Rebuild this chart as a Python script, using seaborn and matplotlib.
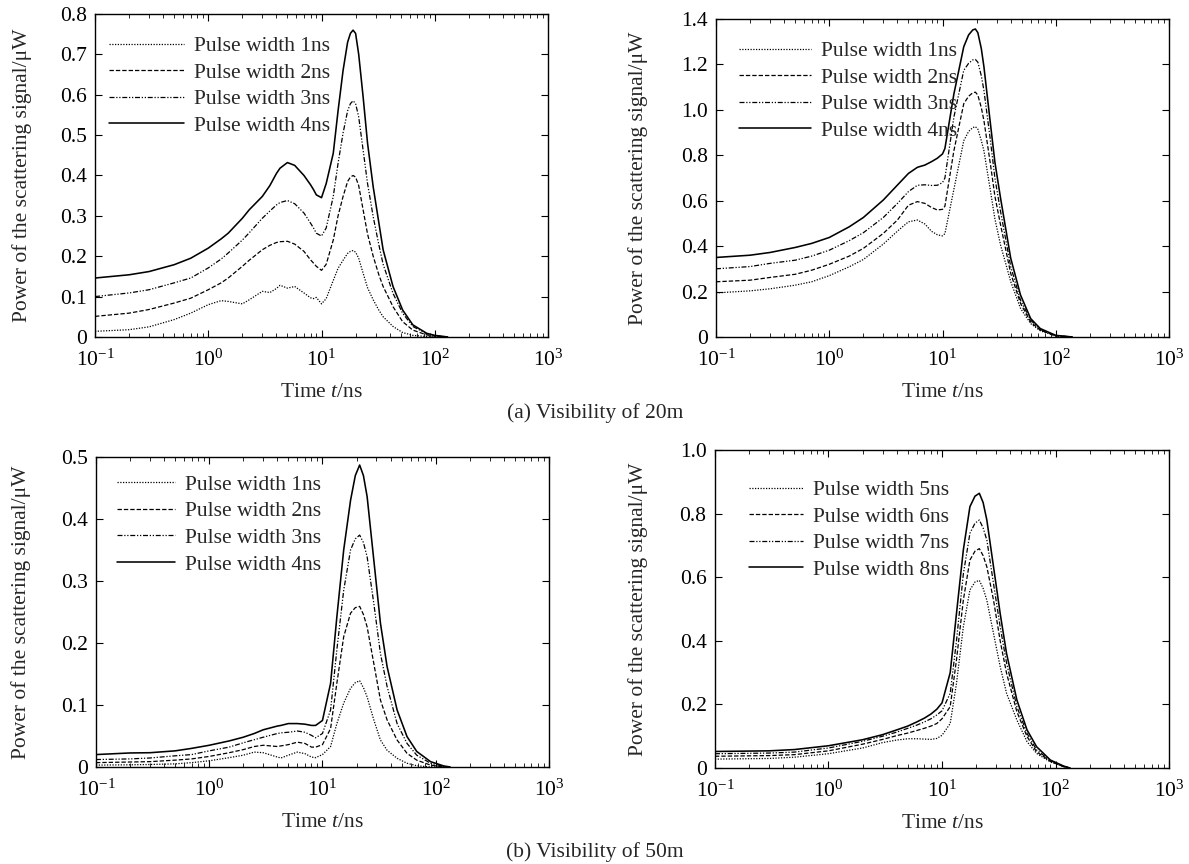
import numpy as np
import pandas as pd
import matplotlib
matplotlib.use("Agg")
import matplotlib.pyplot as plt
import matplotlib.ticker as mticker
import seaborn as sns

# ---------------- data ----------------
# (a) visibility 20 m, left panel, pulse widths 1-4 ns
tA = [0.1, 0.2, 0.3, 0.5, 0.7, 1, 1.3, 1.5, 2, 2.3, 3, 3.5, 4, 4.3, 5, 5.8, 7, 8, 8.5, 9,
      10, 11, 12.7, 14, 15.5, 17, 18, 19, 20, 21.3, 23.3, 25.5, 28.6, 32, 35, 42.8, 52, 64, 85, 100, 130]
a_1ns = [0.014, 0.018, 0.025, 0.043, 0.059, 0.080, 0.090, 0.088, 0.082, 0.092, 0.113, 0.110, 0.120, 0.128,
         0.121, 0.125, 0.109, 0.097, 0.095, 0.098, 0.082, 0.095, 0.140, 0.170, 0.190, 0.207, 0.212, 0.214,
         0.210, 0.195, 0.158, 0.122, 0.092, 0.067, 0.050, 0.026, 0.011, 0.004, 0.001, 0.0, 0.0]
a_2ns = [0.051, 0.059, 0.068, 0.084, 0.096, 0.117, 0.134, 0.146, 0.175, 0.190, 0.216, 0.227, 0.234, 0.236,
         0.237, 0.230, 0.212, 0.191, 0.183, 0.175, 0.165, 0.180, 0.240, 0.300, 0.348, 0.385, 0.396, 0.400,
         0.396, 0.375, 0.315, 0.255, 0.200, 0.155, 0.125, 0.075, 0.038, 0.017, 0.005, 0.002, 0.0]
a_3ns = [0.100, 0.109, 0.117, 0.134, 0.146, 0.171, 0.193, 0.208, 0.240, 0.258, 0.294, 0.312, 0.327, 0.333,
         0.338, 0.330, 0.307, 0.282, 0.270, 0.257, 0.250, 0.270, 0.348, 0.430, 0.505, 0.560, 0.578, 0.585,
         0.578, 0.545, 0.463, 0.380, 0.298, 0.230, 0.180, 0.108, 0.059, 0.026, 0.008, 0.003, 0.0]
a_4ns = [0.146, 0.154, 0.162, 0.179, 0.195, 0.220, 0.243, 0.257, 0.294, 0.315, 0.348, 0.375, 0.405, 0.418,
         0.432, 0.425, 0.400, 0.377, 0.365, 0.352, 0.345, 0.380, 0.455, 0.560, 0.660, 0.730, 0.752, 0.760,
         0.752, 0.700, 0.595, 0.480, 0.372, 0.285, 0.216, 0.125, 0.067, 0.030, 0.009, 0.004, 0.0]

# (a) visibility 20 m, right panel, pulse widths 1-4 ns
tB = [0.1, 0.2, 0.3, 0.5, 0.7, 1, 1.5, 2, 3, 4, 5, 6, 7, 8, 9, 10, 10.5, 12.6, 15.4, 17,
      18.5, 19.5, 20.5, 22, 23.2, 26.5, 29, 32.5, 40, 48.8, 60, 73, 100, 140]
b_1ns = [0.194, 0.203, 0.212, 0.228, 0.243, 0.270, 0.309, 0.341, 0.409, 0.466, 0.507, 0.515, 0.497, 0.465,
         0.450, 0.445, 0.455, 0.650, 0.864, 0.905, 0.922, 0.926, 0.915, 0.865, 0.820, 0.643, 0.520, 0.406,
         0.244, 0.126, 0.059, 0.027, 0.004, 0.0]
b_2ns = [0.243, 0.250, 0.262, 0.276, 0.294, 0.320, 0.356, 0.390, 0.456, 0.515, 0.580, 0.596, 0.588, 0.570,
         0.559, 0.562, 0.576, 0.820, 1.027, 1.060, 1.075, 1.078, 1.065, 1.010, 0.953, 0.760, 0.620, 0.495,
         0.280, 0.148, 0.066, 0.030, 0.005, 0.0]
b_3ns = [0.300, 0.310, 0.324, 0.338, 0.356, 0.382, 0.424, 0.459, 0.526, 0.588, 0.640, 0.668, 0.670, 0.667,
         0.668, 0.680, 0.700, 0.968, 1.174, 1.205, 1.220, 1.222, 1.210, 1.150, 1.086, 0.864, 0.700, 0.554,
         0.310, 0.162, 0.074, 0.033, 0.006, 0.0]
b_4ns = [0.350, 0.360, 0.372, 0.394, 0.412, 0.438, 0.485, 0.526, 0.603, 0.669, 0.720, 0.747, 0.757, 0.772,
         0.787, 0.806, 0.830, 1.070, 1.278, 1.330, 1.352, 1.356, 1.340, 1.270, 1.190, 0.938, 0.770, 0.613,
         0.347, 0.185, 0.081, 0.037, 0.007, 0.0]

# (b) visibility 50 m, left panel, pulse widths 1-4 ns
tC = [0.1, 0.2, 0.3, 0.5, 0.7, 1, 1.5, 2, 2.5, 3, 4, 4.3, 5, 6, 7, 8, 8.7, 10, 11.8, 13.4, 15.4,
      17.7, 19.5, 21.3, 23, 24.8, 28.4, 32.5, 37.2, 45.6, 55.8, 68, 90, 118, 134]
c_1ns = [0.003, 0.0035, 0.004, 0.005, 0.007, 0.010, 0.015, 0.019, 0.024, 0.023, 0.016, 0.0145, 0.019, 0.024,
         0.0215, 0.016, 0.015, 0.020, 0.033, 0.070, 0.103, 0.127, 0.136, 0.139, 0.128, 0.113, 0.076, 0.0435,
         0.027, 0.014, 0.006, 0.002, 0.0, 0.0, 0.0]
c_2ns = [0.007, 0.008, 0.0086, 0.011, 0.013, 0.017, 0.023, 0.028, 0.033, 0.035, 0.033, 0.034, 0.036, 0.040,
         0.038, 0.032, 0.032, 0.036, 0.062, 0.135, 0.210, 0.248, 0.257, 0.259, 0.246, 0.226, 0.167, 0.108,
         0.076, 0.0435, 0.022, 0.011, 0.003, 0.0, 0.0]
c_3ns = [0.012, 0.013, 0.0145, 0.018, 0.020, 0.026, 0.032, 0.039, 0.044, 0.048, 0.054, 0.055, 0.056, 0.058,
         0.056, 0.051, 0.047, 0.054, 0.092, 0.189, 0.285, 0.350, 0.368, 0.374, 0.362, 0.339, 0.264, 0.183,
         0.130, 0.070, 0.038, 0.019, 0.006, 0.001, 0.0]
c_4ns = [0.020, 0.0226, 0.023, 0.026, 0.030, 0.035, 0.042, 0.048, 0.054, 0.060, 0.066, 0.067, 0.070, 0.070,
         0.069, 0.067, 0.067, 0.075, 0.135, 0.242, 0.350, 0.430, 0.470, 0.487, 0.470, 0.436, 0.334, 0.232,
         0.162, 0.092, 0.049, 0.025, 0.0086, 0.0016, 0.0]

# (b) visibility 50 m, right panel, pulse widths 5-8 ns
tD = [0.1, 0.3, 0.5, 1, 2, 3, 4, 5, 6, 7, 8, 9, 10, 11.8, 13.4, 15.4, 17.6, 19.5, 21.3, 23, 24.8, 28.4,
      32.5, 37, 45.6, 56, 68, 90, 118, 134]
d_5ns = [0.028, 0.030, 0.034, 0.045, 0.063, 0.080, 0.088, 0.092, 0.092, 0.091, 0.090, 0.093, 0.103, 0.140,
         0.266, 0.444, 0.560, 0.585, 0.590, 0.565, 0.528, 0.423, 0.319, 0.235, 0.151, 0.083, 0.046, 0.019,
         0.004, 0.0]
d_6ns = [0.037, 0.039, 0.042, 0.054, 0.075, 0.090, 0.102, 0.110, 0.118, 0.125, 0.132, 0.140, 0.155, 0.193,
         0.340, 0.528, 0.654, 0.682, 0.690, 0.668, 0.633, 0.528, 0.400, 0.298, 0.177, 0.099, 0.051, 0.021,
         0.004, 0.0]
d_7ns = [0.045, 0.047, 0.050, 0.063, 0.084, 0.100, 0.113, 0.125, 0.135, 0.145, 0.155, 0.167, 0.180, 0.235,
         0.400, 0.610, 0.738, 0.770, 0.780, 0.755, 0.717, 0.580, 0.444, 0.330, 0.193, 0.109, 0.057, 0.023,
         0.005, 0.0]
d_8ns = [0.052, 0.054, 0.058, 0.070, 0.089, 0.105, 0.120, 0.132, 0.145, 0.157, 0.170, 0.185, 0.205, 0.300,
         0.486, 0.686, 0.822, 0.855, 0.864, 0.835, 0.780, 0.633, 0.486, 0.360, 0.214, 0.120, 0.067, 0.025,
         0.006, 0.0]

labels_14 = ["Pulse width 1ns", "Pulse width 2ns", "Pulse width 3ns", "Pulse width 4ns"]
labels_58 = ["Pulse width 5ns", "Pulse width 6ns", "Pulse width 7ns", "Pulse width 8ns"]

yticksA = [0, 0.1, 0.2, 0.3, 0.4, 0.5, 0.6, 0.7, 0.8]
yticklabelsA = ["0", "0.1", "0.2", "0.3", "0.4", "0.5", "0.6", "0.7", "0.8"]
yticksB = [0, 0.2, 0.4, 0.6, 0.8, 1.0, 1.2, 1.4]
yticklabelsB = ["0", "0.2", "0.4", "0.6", "0.8", "1.0", "1.2", "1.4"]
yticksC = [0, 0.1, 0.2, 0.3, 0.4, 0.5]
yticklabelsC = ["0", "0.1", "0.2", "0.3", "0.4", "0.5"]
yticksD = [0, 0.2, 0.4, 0.6, 0.8, 1.0]
yticklabelsD = ["0", "0.2", "0.4", "0.6", "0.8", "1.0"]

# ---------------- style ----------------
sns.set_theme(style="ticks")
plt.rcParams["font.family"] = ["Liberation Serif", "DejaVu Serif"]
plt.rcParams["mathtext.fontset"] = "custom"
plt.rcParams["mathtext.rm"] = "Liberation Serif"
plt.rcParams["mathtext.it"] = "Liberation Serif:italic"
plt.rcParams["axes.unicode_minus"] = False
FS = 15.5

line_styles = [(0, (1.0, 1.2)), (0, (3.5, 1.6)), (0, (4.0, 1.4, 1.0, 1.4, 1.0, 1.4)), "-"]
line_widths = [0.9, 0.9, 0.9, 1.15]

fig = plt.figure(figsize=(11.89, 8.64), dpi=100)

panels = [
    ([0.0799, 0.6100, 0.381, 0.3738], tA, [a_1ns, a_2ns, a_3ns, a_4ns], labels_14, yticksA, yticklabelsA, 0.8, (0.012, 0.958), -0.161, 3.5),
    ([0.6022, 0.6100, 0.381, 0.3680], tB, [b_1ns, b_2ns, b_3ns, b_4ns], labels_14, yticksB, yticklabelsB, 1.4, (0.032, 0.958), -0.172, 3.35),
    ([0.0807, 0.1123, 0.381, 0.3588], tC, [c_1ns, c_2ns, c_3ns, c_4ns], labels_14, yticksC, yticklabelsC, 0.5, (0.028, 0.970), -0.166, 2.7),
    ([0.6013, 0.1111, 0.382, 0.3680], tD, [d_5ns, d_6ns, d_7ns, d_8ns], labels_58, yticksD, yticklabelsD, 1.0, (0.055, 0.932), -0.170, 2.55),
]

for rect, t, series, labels, yt, ytl, ymax, legpos, ylx, hlen in panels:
    ax = fig.add_axes(rect)
    for vals, lab, ls, lw in zip(series, labels, line_styles, line_widths):
        df = pd.DataFrame({"t": t, "p": vals})
        sns.lineplot(data=df, x="t", y="p", ax=ax, color="black", linestyle=ls,
                     linewidth=lw, label=lab, sort=False)
    ax.set_xscale("log")
    ax.set_xlim(0.1, 1000)
    ax.set_ylim(0, ymax)
    ax.set_xticks([0.1, 1, 10, 100, 1000])
    ax.set_xticklabels([r"$10^{-1}$", r"$10^{0}$", r"$10^{1}$", r"$10^{2}$", r"$10^{3}$"])
    ax.xaxis.set_minor_locator(mticker.LogLocator(base=10, subs=np.arange(2, 10), numticks=20))
    ax.xaxis.set_minor_formatter(mticker.NullFormatter())
    ax.set_yticks(yt)
    ax.set_yticklabels(ytl)
    ax.tick_params(axis="both", which="major", direction="in", length=5, width=0.8,
                   top=True, right=True, labelsize=FS, colors="black")
    ax.tick_params(axis="y", which="major", pad=6)
    ax.tick_params(axis="x", which="major", pad=9)
    ax.tick_params(axis="x", which="minor", direction="in", length=2.8, width=0.7,
                   top=True, bottom=True)
    for sp in ax.spines.values():
        sp.set_linewidth(1.0)
        sp.set_color("black")
    ax.set_xlabel(r"Time $t$/ns", fontsize=FS, labelpad=9)
    ax.set_ylabel("Power of the scattering signal/\u03bcW", fontsize=FS, va="center")
    ax.yaxis.set_label_coords(ylx, 0.5)
    ax.legend(loc="upper left", bbox_to_anchor=legpos, frameon=False, fontsize=FS,
              handlelength=hlen, handletextpad=0.45, labelspacing=0.3, borderaxespad=0.2,
              borderpad=0.2)
    ax.grid(False)

fig.text(0.5005, 1 - 413 / 864, "(a) Visibility of 20m", ha="center", va="center", fontsize=FS)
fig.text(0.5005, 1 - 852 / 864, "(b) Visibility of 50m", ha="center", va="center", fontsize=FS)

fig.savefig("out.png", dpi=100, facecolor="white")
